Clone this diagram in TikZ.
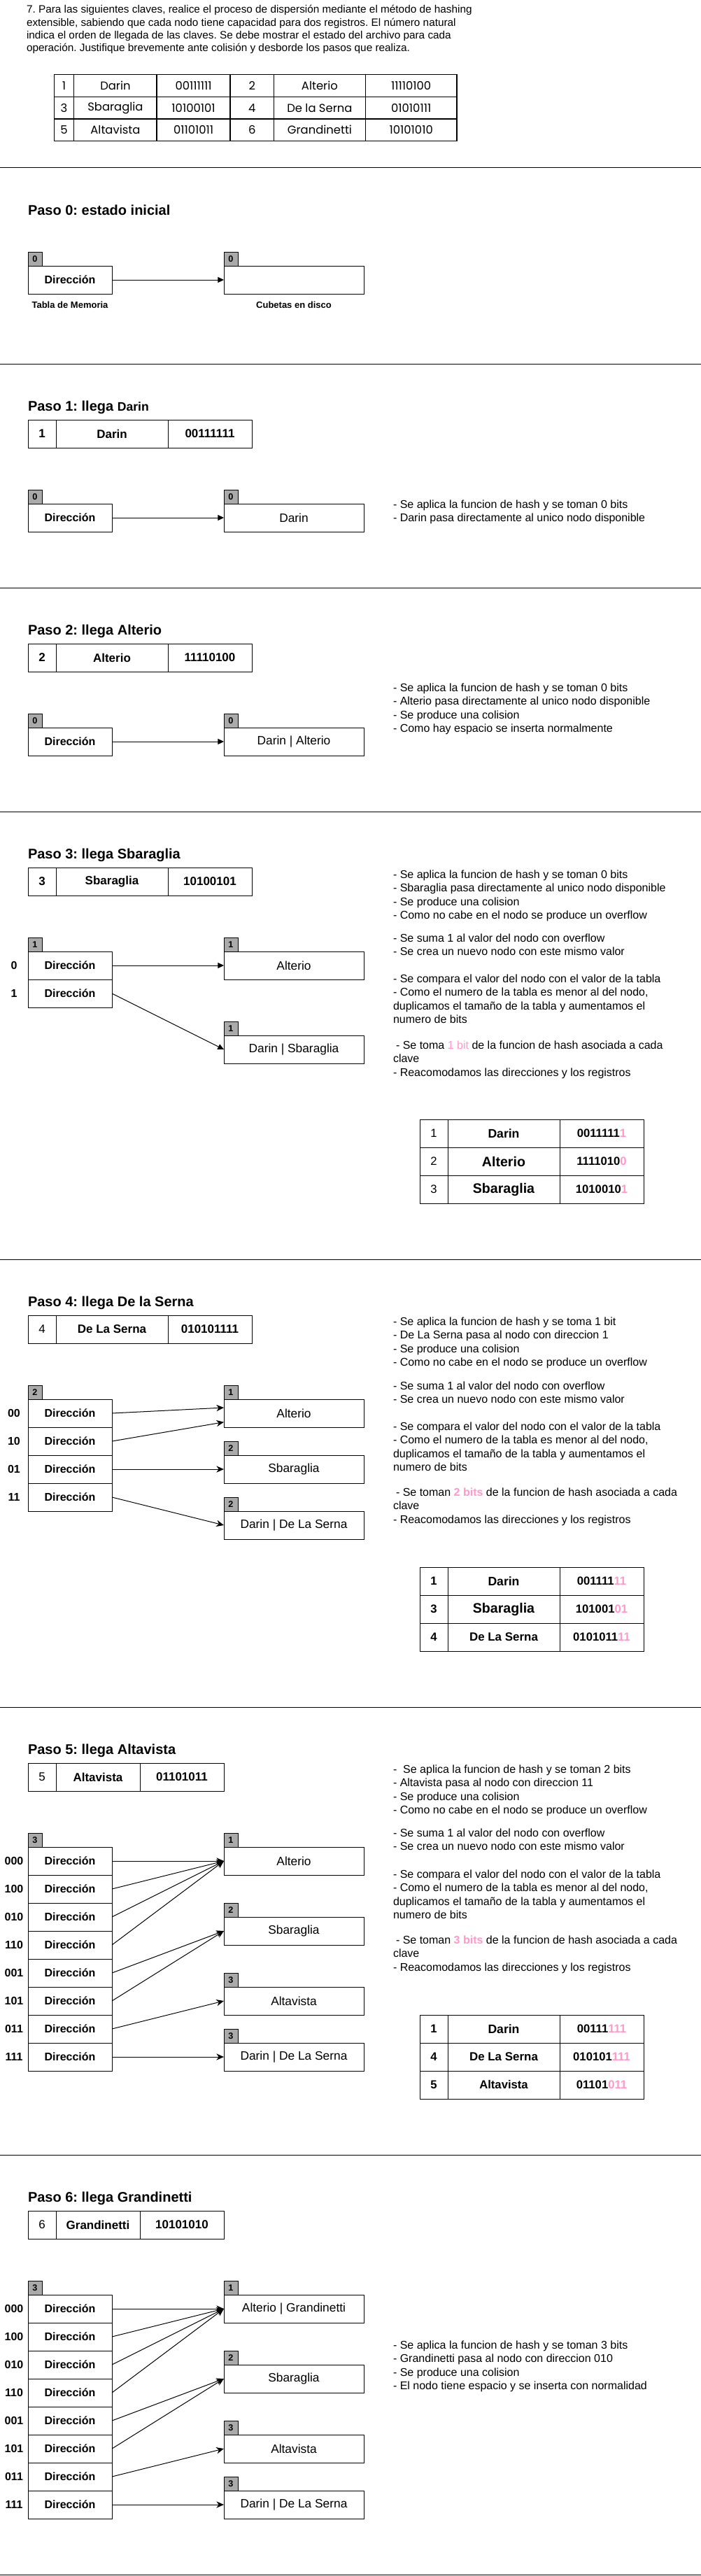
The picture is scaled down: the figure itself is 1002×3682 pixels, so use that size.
\documentclass[tikz,border=0pt]{standalone}
\usepackage{fontspec}
\setmainfont{Liberation Sans}
\newfontfamily\geofont{Poppins}
\usetikzlibrary{arrows.meta}
\definecolor{depthgray}{HTML}{AAAAAA}
\definecolor{pinkbit}{HTML}{FF99CC}
\frenchspacing
\newcommand\fsz[1]{\fontsize{#1}{#1}\selectfont}
\newcommand\tblock[4]{\foreach \tline [count=\tidx from 0] in {#4} {\node[rtext] (#1-\tidx) at (#2,{#3+5.7+19.2*\tidx}) {\tline};}}
\begin{document}
\begin{tikzpicture}[x=0.75pt,y=-0.75pt,
  every node/.style={inner sep=0pt,outer sep=0pt,execute at begin node=\frenchspacing},
  boxst/.style={draw=black,line width=0.75pt,fill=white,anchor=north west},
  dirbox/.style={boxst,minimum width=90pt,minimum height=30pt,font=\fsz{12pt}\bfseries},
  bucket/.style={boxst,minimum width=150pt,minimum height=30pt,font=\fsz{13pt}},
  depth/.style={boxst,fill=depthgray,minimum width=15pt,minimum height=15pt,font=\fsz{9.5pt}\bfseries},
  cell/.style={boxst,minimum height=30pt,font=\fsz{12.75pt}\bfseries},
  cnum/.style={boxst,minimum height=30pt,minimum width=30pt,font=\fsz{12.75pt}},
  bcell/.style={boxst,minimum height=30pt},
  title/.style={anchor=base west,font=\fsz{15pt}\bfseries},
  rtext/.style={anchor=base west,font=\fsz{12pt}},
  ptext/.style={anchor=base west,font=\fsz{11.5pt}},
  lbl/.style={font=\fsz{12pt}\bfseries},
  caption/.style={font=\fsz{9.75pt}\bfseries},
  divider/.style={line width=0.75pt,draw=black},
  arrA/.style={-{Triangle[length=6.5pt,width=6pt]},line width=0.75pt},
  arrB/.style={-{Stealth[length=8pt,width=7pt,inset=2.5pt]},line width=0.75pt},
  topcell/.style={draw=black,line width=1pt,anchor=north west,minimum height=23.7pt,font=\geofont\fsz{12.3pt}},
]
\useasboundingbox (0,0) rectangle (1002,3682);
\fill[white] (0,0) rectangle (1002,3682);

% ---------- problem statement ----------
\node[ptext] (pr1) at (38,18.8) {7. Para las siguientes claves, realice el proceso de dispersión mediante el método de hashing};
\node[ptext] (pr2) at (38,37.2) {extensible, sabiendo que cada nodo tiene capacidad para dos registros. El número natural};
\node[ptext] (pr3) at (38,55.5) {indica el orden de llegada de las claves. Se debe mostrar el estado del archivo para cada};
\node[ptext] (pr4) at (38,73.8) {operación. Justifique brevemente ante colisión y desborde los pasos que realiza.};

\foreach \a/\b/\c/\d/\e/\f [count=\r from 0] in {1/Darin/00111111/2/Alterio/11110100, 3/Sbaraglia/10100101/4/De la Serna/01010111, 5/Altavista/01101011/6/Grandinetti/10101010} {
  \node[topcell,minimum width=21.45pt] (tA\r) at (77.2,{106.7+31.65*\r}) {\a};
  \node[topcell,minimum width=88.7pt] (tB\r) at (105.8,{106.7+31.65*\r}) {\b};
  \node[topcell,minimum width=78.7pt] (tC\r) at (224.1,{106.7+31.65*\r}) {\c};
  \node[topcell,minimum width=46.9pt] (tD\r) at (329,{106.7+31.65*\r}) {\d};
  \node[topcell,minimum width=98.1pt] (tE\r) at (391.5,{106.7+31.65*\r}) {\e};
  \node[topcell,minimum width=98.1pt] (tF\r) at (522.3,{106.7+31.65*\r}) {\f};
}
\draw[divider] (0,240) -- (1002,240);

% ---------- Paso 0 ----------
\node[title] (p0t) at (40,307) {Paso 0: estado inicial};
\node[depth] (p0dd) at (40,360) {0};
\node[dirbox] (p0d) at (40,380) {Dirección};
\node[depth] (p0bd) at (320,360) {0};
\node[bucket] (p0b) at (320,380) {};
\draw[arrA] (p0d.east) -- (p0b.west);
\node[caption] (p0c1) at (100,436) {Tabla de Memoria};
\node[caption] (p0c2) at (420,436) {Cubetas en disco};
\draw[divider] (0,520) -- (1002,520);

% ---------- Paso 1 ----------
\node[title] (p1t) at (40,587) {Paso 1: llega {\fsz{13.2pt}Darin}};
\node[cell,minimum width=30pt] (p1c1) at (40,600) {1};
\node[cell,minimum width=120pt] (p1c2) at (80,600) {Darin};
\node[cell,minimum width=90pt] (p1c3) at (240,600) {00111111};
\node[depth] (p1dd) at (40,700) {0};
\node[dirbox] (p1d) at (40,720) {Dirección};
\node[depth] (p1bd) at (320,700) {0};
\node[bucket] (p1b) at (320,720) {Darin};
\draw[arrA] (p1d.east) -- (p1b.west);
\tblock{p1x}{562}{721}{{- Se aplica la funcion de hash y se toman 0 bits},{- Darin pasa directamente al unico nodo disponible}}
\draw[divider] (0,840) -- (1002,840);

% ---------- Paso 2 ----------
\node[title] (p2t) at (40,907) {Paso 2: llega Alterio};
\node[cell,minimum width=30pt] (p2c1) at (40,920) {2};
\node[cell,minimum width=120pt] (p2c2) at (80,920) {Alterio};
\node[cell,minimum width=90pt] (p2c3) at (240,920) {11110100};
\tblock{p2x}{562}{983}{{- Se aplica la funcion de hash y se toman 0 bits},{- Alterio pasa directamente al unico nodo disponible},{- Se produce una colision},{- Como hay espacio se inserta normalmente}}
\node[depth] (p2dd) at (40,1020) {0};
\node[dirbox] (p2d) at (40,1040) {Dirección};
\node[depth] (p2bd) at (320,1020) {0};
\node[bucket] (p2b) at (320,1040) {Darin | Alterio};
\draw[arrA] (p2d.east) -- (p2b.west);
\draw[divider] (0,1160) -- (1002,1160);

% ---------- Paso 3 ----------
\node[title] (p3t) at (40,1227) {Paso 3: llega Sbaraglia};
\node[cell,minimum width=30pt] (p3c1) at (40,1240) {3};
\node[cell,minimum width=120pt] (p3c2) at (80,1240) {Sbaraglia};
\node[cell,minimum width=90pt] (p3c3) at (240,1240) {10100101};
\tblock{p3x}{562}{1250}{{- Se aplica la funcion de hash y se toman 0 bits},{- Sbaraglia pasa directamente al unico nodo disponible},{- Se produce una colision},{- Como no cabe en el nodo se produce un overflow}}
\tblock{p3y}{562}{1341}{{- Se suma 1 al valor del nodo con overflow},{- Se crea un nuevo nodo con este mismo valor}}
\tblock{p3z}{562}{1399}{{- Se compara el valor del nodo con el valor de la tabla},{- Como el numero de la tabla es menor al del nodo,},{duplicamos el tamaño de la tabla y aumentamos el},{numero de bits}}
\tblock{p3w}{562}{1494}{{\hspace*{3pt}- Se toma \textcolor{pinkbit}{1 bit} de la funcion de hash asociada a cada},{clave},{- Reacomodamos las direcciones y los registros}}
\node[depth] (p3dd) at (40,1340) {1};
\node[dirbox] (p3d0) at (40,1360) {Dirección};
\node[dirbox] (p3d1) at (40,1400) {Dirección};
\node[lbl] (p3l0) at (20,1380) {0};
\node[lbl] (p3l1) at (20,1420) {1};
\node[depth] (p3bAd) at (320,1340) {1};
\node[bucket] (p3bA) at (320,1360) {Alterio};
\node[depth] (p3bBd) at (320,1460) {1};
\node[bucket] (p3bB) at (320,1480) {Darin | Sbaraglia};
\draw[arrA] (p3d0.east) -- (p3bA.west);
\draw[arrA] (p3d1.east) -- (p3bB.west);
\node[bcell,minimum width=30pt,font=\fsz{12.5pt}] (p3r1a) at (600,1600) {1};
\node[bcell,minimum width=120pt,font=\fsz{13.2pt}\bfseries] (p3r1b) at (640,1600) {Darin};
\node[bcell,minimum width=90pt,font=\fsz{12.5pt}\bfseries] (p3r1c) at (800,1600) {0011111\textcolor{pinkbit}{1}};
\node[bcell,minimum width=30pt,font=\fsz{12.5pt}] (p3r2a) at (600,1640) {2};
\node[bcell,minimum width=120pt,font=\fsz{14.7pt}\bfseries] (p3r2b) at (640,1640) {Alterio};
\node[bcell,minimum width=90pt,font=\fsz{12.5pt}\bfseries] (p3r2c) at (800,1640) {1111010\textcolor{pinkbit}{0}};
\node[bcell,minimum width=30pt,font=\fsz{12.5pt}] (p3r3a) at (600,1680) {3};
\node[bcell,minimum width=120pt,font=\fsz{14.7pt}\bfseries] (p3r3b) at (640,1680) {Sbaraglia};
\node[bcell,minimum width=90pt,font=\fsz{12.5pt}\bfseries] (p3r3c) at (800,1680) {1010010\textcolor{pinkbit}{1}};
\draw[divider] (0,1800) -- (1002,1800);

% ---------- Paso 4 ----------
\node[title] (p4t) at (40,1867) {Paso 4: llega De la Serna};
\node[cnum] (p4c1) at (40,1880) {4};
\node[cell,minimum width=120pt] (p4c2) at (80,1880) {De La Serna};
\node[cell,minimum width=90pt] (p4c3) at (240,1880) {010101111};
\tblock{p4x}{562}{1889}{{- Se aplica la funcion de hash y se toma 1 bit},{- De La Serna pasa al nodo con direccion 1},{- Se produce una colision},{- Como no cabe en el nodo se produce un overflow}}
\tblock{p4y}{562}{1981}{{- Se suma 1 al valor del nodo con overflow},{- Se crea un nuevo nodo con este mismo valor}}
\tblock{p4z}{562}{2039}{{- Se compara el valor del nodo con el valor de la tabla},{- Como el numero de la tabla es menor al del nodo,},{duplicamos el tamaño de la tabla y aumentamos el},{numero de bits}}
\tblock{p4w}{562}{2133}{{\hspace*{3pt}- Se toman \textcolor{pinkbit}{\bfseries 2 bits} de la funcion de hash asociada a cada},{clave},{- Reacomodamos las direcciones y los registros}}
\node[depth] (p4dd) at (40,1980) {2};
\foreach \lab [count=\k from 0] in {00,10,01,11} {
  \node[dirbox] (p4d\k) at (40,{2000+40*\k}) {Dirección};
  \node[lbl] (p4l\k) at (20,{2020+40*\k}) {\lab};
}
\node[depth] (p4bAd) at (320,1980) {1};
\node[bucket] (p4bA) at (320,2000) {Alterio};
\node[depth] (p4bSd) at (320,2060) {2};
\node[bucket] (p4bS) at (320,2080) {Sbaraglia};
\node[depth] (p4bDd) at (320,2140) {2};
\node[bucket] (p4bD) at (320,2160) {Darin | De La Serna};
\draw[arrB] (p4d0.east) -- ([yshift=6pt]p4bA.west);
\draw[arrB] (p4d1.east) -- ([yshift=-9.5pt]p4bA.west);
\draw[arrB] (p4d2.east) -- (p4bS.west);
\draw[arrB] (p4d3.east) -- (p4bD.west);
\node[bcell,minimum width=30pt,font=\fsz{12.5pt}\bfseries] (p4r1a) at (600,2240) {1};
\node[bcell,minimum width=120pt,font=\fsz{13.2pt}\bfseries] (p4r1b) at (640,2240) {Darin};
\node[bcell,minimum width=90pt,font=\fsz{12.5pt}\bfseries] (p4r1c) at (800,2240) {001111\textcolor{pinkbit}{11}};
\node[bcell,minimum width=30pt,font=\fsz{12.5pt}\bfseries] (p4r2a) at (600,2280) {3};
\node[bcell,minimum width=120pt,font=\fsz{14.7pt}\bfseries] (p4r2b) at (640,2280) {Sbaraglia};
\node[bcell,minimum width=90pt,font=\fsz{12.5pt}\bfseries] (p4r2c) at (800,2280) {101001\textcolor{pinkbit}{01}};
\node[bcell,minimum width=30pt,font=\fsz{12.5pt}\bfseries] (p4r3a) at (600,2320) {4};
\node[bcell,minimum width=120pt,font=\fsz{12.7pt}\bfseries] (p4r3b) at (640,2320) {De La Serna};
\node[bcell,minimum width=90pt,font=\fsz{12.5pt}\bfseries] (p4r3c) at (800,2320) {0101011\textcolor{pinkbit}{11}};
\draw[divider] (0,2440) -- (1002,2440);

% ---------- Paso 5 ----------
\node[title] (p5t) at (40,2507) {Paso 5: llega Altavista};
\node[cnum] (p5c1) at (40,2520) {5};
\node[cell,minimum width=90pt] (p5c2) at (80,2520) {Altavista};
\node[cell,minimum width=90pt] (p5c3) at (200,2520) {01101011};
\tblock{p5x}{562}{2529}{{-~ Se aplica la funcion de hash y se toman 2 bits},{- Altavista pasa al nodo con direccion 11},{- Se produce una colision},{- Como no cabe en el nodo se produce un overflow}}
\tblock{p5y}{562}{2620}{{- Se suma 1 al valor del nodo con overflow},{- Se crea un nuevo nodo con este mismo valor}}
\tblock{p5z}{562}{2679}{{- Se compara el valor del nodo con el valor de la tabla},{- Como el numero de la tabla es menor al del nodo,},{duplicamos el tamaño de la tabla y aumentamos el},{numero de bits}}
\tblock{p5w}{562}{2773}{{\hspace*{3pt}- Se toman \textcolor{pinkbit}{\bfseries 3 bits} de la funcion de hash asociada a cada},{clave},{- Reacomodamos las direcciones y los registros}}
\node[depth] (p5dd) at (40,2620) {3};
\foreach \lab [count=\k from 0] in {000,100,010,110,001,101,011,111} {
  \node[dirbox] (p5d\k) at (40,{2640+40*\k}) {Dirección};
  \node[lbl] (p5l\k) at (20,{2660+40*\k}) {\lab};
}
\node[depth] (p5bAd) at (320,2620) {1};
\node[bucket] (p5bA) at (320,2640) {Alterio};
\node[depth] (p5bSd) at (320,2720) {2};
\node[bucket] (p5bS) at (320,2740) {Sbaraglia};
\node[depth] (p5bVd) at (320,2820) {3};
\node[bucket] (p5bV) at (320,2840) {Altavista};
\node[depth] (p5bDd) at (320,2900) {3};
\node[bucket] (p5bD) at (320,2920) {Darin | De La Serna};
\foreach \k in {0,1,2,3} {\draw[arrB] (p5d\k.east) -- (p5bA.west);}
\foreach \k in {4,5} {\draw[arrB] (p5d\k.east) -- (p5bS.west);}
\draw[arrB] (p5d6.east) -- (p5bV.west);
\draw[arrB] (p5d7.east) -- (p5bD.west);
\node[bcell,minimum width=30pt,font=\fsz{12.5pt}\bfseries] (p5r1a) at (600,2880) {1};
\node[bcell,minimum width=120pt,font=\fsz{13.2pt}\bfseries] (p5r1b) at (640,2880) {Darin};
\node[bcell,minimum width=90pt,font=\fsz{12.5pt}\bfseries] (p5r1c) at (800,2880) {00111\textcolor{pinkbit}{111}};
\node[bcell,minimum width=30pt,font=\fsz{12.5pt}\bfseries] (p5r2a) at (600,2920) {4};
\node[bcell,minimum width=120pt,font=\fsz{12.7pt}\bfseries] (p5r2b) at (640,2920) {De La Serna};
\node[bcell,minimum width=90pt,font=\fsz{12.5pt}\bfseries] (p5r2c) at (800,2920) {010101\textcolor{pinkbit}{111}};
\node[bcell,minimum width=30pt,font=\fsz{12.5pt}\bfseries] (p5r3a) at (600,2960) {5};
\node[bcell,minimum width=120pt,font=\fsz{12.5pt}\bfseries] (p5r3b) at (640,2960) {Altavista};
\node[bcell,minimum width=90pt,font=\fsz{12.5pt}\bfseries] (p5r3c) at (800,2960) {01101\textcolor{pinkbit}{011}};
\draw[divider] (0,3080) -- (1002,3080);

% ---------- Paso 6 ----------
\node[title] (p6t) at (40,3147) {Paso 6: llega Grandinetti};
\node[cnum] (p6c1) at (40,3160) {6};
\node[cell,minimum width=90pt] (p6c2) at (80,3160) {Grandinetti};
\node[cell,minimum width=90pt] (p6c3) at (200,3160) {10101010};
\node[depth] (p6dd) at (40,3260) {3};
\foreach \lab [count=\k from 0] in {000,100,010,110,001,101,011,111} {
  \node[dirbox] (p6d\k) at (40,{3280+40*\k}) {Dirección};
  \node[lbl] (p6l\k) at (20,{3300+40*\k}) {\lab};
}
\node[depth] (p6bAd) at (320,3260) {1};
\node[bucket] (p6bA) at (320,3280) {Alterio | Grandinetti};
\node[depth] (p6bSd) at (320,3360) {2};
\node[bucket] (p6bS) at (320,3380) {Sbaraglia};
\node[depth] (p6bVd) at (320,3460) {3};
\node[bucket] (p6bV) at (320,3480) {Altavista};
\node[depth] (p6bDd) at (320,3540) {3};
\node[bucket] (p6bD) at (320,3560) {Darin | De La Serna};
\foreach \k in {0,1,2,3} {\draw[arrB] (p6d\k.east) -- (p6bA.west);}
\foreach \k in {4,5} {\draw[arrB] (p6d\k.east) -- (p6bS.west);}
\draw[arrB] (p6d6.east) -- (p6bV.west);
\draw[arrB] (p6d7.east) -- (p6bD.west);
\tblock{p6x}{562}{3352}{{- Se aplica la funcion de hash y se toman 3 bits},{- Grandinetti pasa al nodo con direccion 010},{- Se produce una colision},{- El nodo tiene espacio y se inserta con normalidad}}
\draw[divider] (0,3680) -- (1002,3680);
\end{tikzpicture}
\end{document}
